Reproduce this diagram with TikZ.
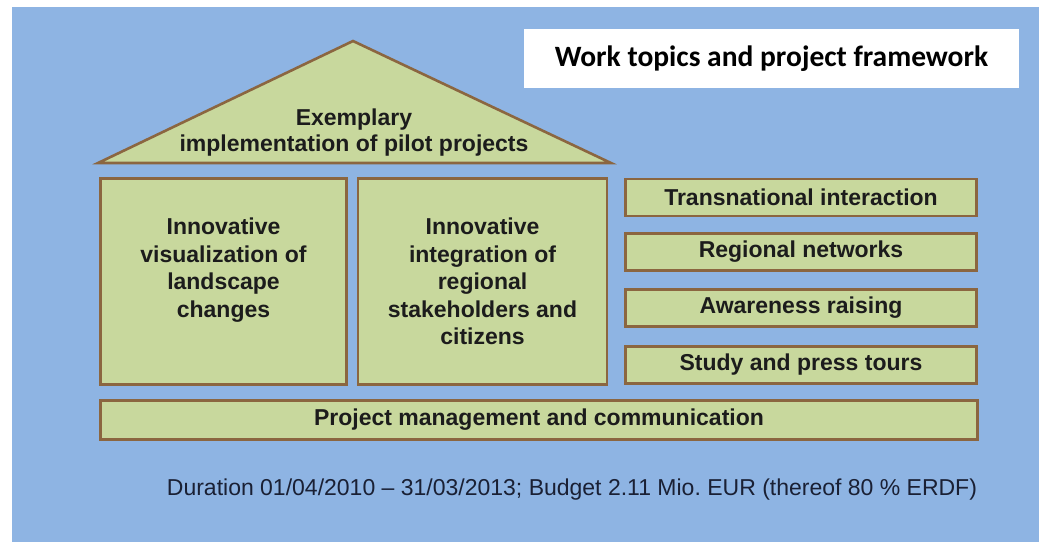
\documentclass[tikz,border=0pt]{standalone}
\usepackage{fontspec}
\setmainfont{Liberation Sans}
\newfontfamily\titlefont{Carlito}
\definecolor{skyblue}{RGB}{142,180,227}
\definecolor{sage}{RGB}{200,216,157}
\definecolor{bark}{RGB}{139,102,64}
\definecolor{inkgray}{RGB}{28,28,28}
\definecolor{inknavy}{RGB}{26,32,52}
\tikzset{
  pillar/.style={draw=bark, fill=sage, line width=2.6pt, rectangle, inner sep=0pt,
    align=center, text=inkgray, font=\bfseries\fontsize{23}{27.5}\selectfont},
  beam/.style={pillar, minimum width=351pt, minimum height=37pt},
  roof/.style={draw=bark, fill=sage, line width=2.6pt, line join=miter}
}
\begin{document}
\begin{tikzpicture}[x=1pt, y=-1pt]
		\useasboundingbox (0,0) rectangle (1047,542);
		\fill[white] (0,0) rectangle (1047,542);
		\fill[skyblue] (12,7) rectangle (1039,542);
		
		% TITLE
		\node[fill=white, minimum width=495pt, minimum height=59pt, inner sep=0pt,
		  font=\titlefont\bfseries\fontsize{29.5}{34}\selectfont] (title) at (771.5,58.5) {Work topics and project framework};
		
		% ROOF
		\filldraw[roof] (98,163) -- (353,41) -- (611,163) -- cycle;
		\node[align=center, text=inkgray, font=\bfseries\fontsize{23}{26}\selectfont] (pilot) at (354,133) {Exemplary\\implementation of pilot projects};
		
		% PILLARS
		\node[pillar, minimum width=246pt, minimum height=206pt] (visual) at (223.5,281.5) {Innovative\\visualization of\\landscape\\changes\\~};
		\node[pillar, minimum width=249pt, minimum height=206pt] (integr) at (482.5,281.5) {Innovative\\integration of\\regional\\stakeholders and\\citizens};
		
		% SIDE BEAMS
		\node[beam] (trans) at (801,197.5) {Transnational interaction};
		\node[beam] (regio) at (801,252) {Regional networks};
		\node[beam] (aware) at (801,308) {Awareness raising};
		\node[beam] (tours) at (801,365) {Study and press tours};
		
		% FOUNDATION
		\node[pillar, minimum width=877pt, minimum height=39pt] (manage) at (539,420) {Project management and communication};
		
		\node[text=inknavy, font=\fontsize{23}{27}\selectfont] (budget) at (572,490) {Duration 01/04/2010 -- 31/03/2013; Budget 2.11 Mio.\ EUR (thereof 80 \% ERDF)};
\end{tikzpicture}
\end{document}
